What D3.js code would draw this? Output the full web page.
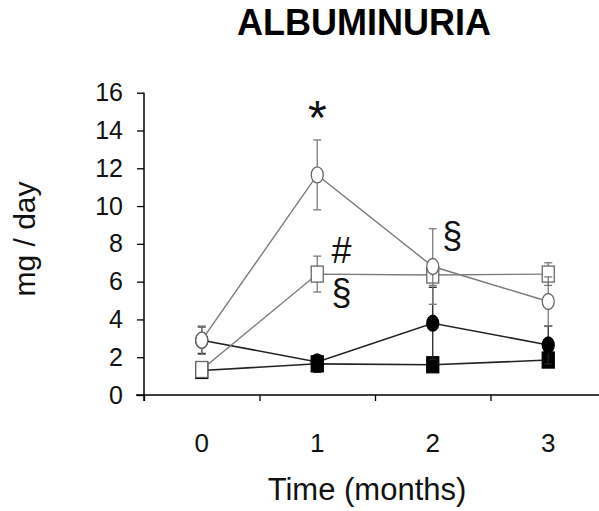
<!DOCTYPE html>
<html>
<head>
<meta charset="utf-8">
<title>Albuminuria</title>
<script src="https://d3js.org/d3.v7.min.js"></script>
<style>
  body { margin: 0; background: #fff; }
  svg { font-family: "Liberation Sans", Arial, sans-serif; }
</style>
</head>
<body>
<div id="chart"></div>
<script>
// values (mg / day)
var months = [0, 1, 2, 3];
var yTicks = [0, 2, 4, 6, 8, 10, 12, 14, 16];

var openCircle      = [2.9, 11.65, 6.8, 4.95];
var openCircleErr   = [0.75, 1.85, 2.0, 1.3];
var openSquare      = [1.35, 6.4, 6.35, 6.4];
var openSquareErr   = [0.4, 0.95, 0.55, 0.6];
var filledCircle    = [2.9, 1.75, 3.8, 2.65];
var filledCircleErr = [0.7, 0.3, 1.9, 1.0];
var filledSquare    = [1.3, 1.65, 1.6, 1.85];
var filledSquareErr = [0.2, 0.45, 0.2, 0.2];

// significance marks: [month, value, symbol]
var marks = [[1, 13.8, "*"], [1.21, 6.98, "#"], [1.21, 4.76, "§"], [2.17, 7.77, "§"]];

var W = 599, H = 511;
var svg = d3.select("#chart").append("svg").attr("width", W).attr("height", H);

var x = d3.scaleLinear().domain([-0.5, 3.5]).range([144, 606]);
var y = d3.scaleLinear().domain([0, 16]).range([395, 92.7]);

// title
svg.append("text").attr("x", 364).attr("y", 35).attr("text-anchor", "middle")
  .attr("font-size", 36).attr("font-weight", "bold").text("ALBUMINURIA");

// y axis
var gy = svg.append("g").attr("transform", "translate(" + x(-0.5) + ",0)")
  .call(d3.axisLeft(y).tickValues(yTicks).tickSize(7).tickPadding(14));
gy.select(".domain").attr("d", "M0," + y(16) + "V" + (y(0) + 6)).attr("stroke", "#000").attr("stroke-width", 1.5);
gy.selectAll(".tick line").attr("stroke", "#000").attr("stroke-width", 1.3);
gy.selectAll(".tick text").attr("font-size", 25).attr("font-family", "Liberation Sans, Arial, sans-serif").attr("fill", "#111");

// x axis: ticks at the band edges, labels at the month centres
var gx = svg.append("g").attr("transform", "translate(0," + y(0) + ")")
  .call(d3.axisBottom(x).tickValues([-0.5, 0.5, 1.5, 2.5]).tickSize(6).tickFormat(""));
gx.select(".domain").attr("d", "M" + (x(-0.5) - 8) + ",0H" + W).attr("stroke", "#000").attr("stroke-width", 1.5);
gx.selectAll(".tick line").attr("stroke", "#000").attr("stroke-width", 1.3);

svg.append("g").selectAll("text").data(months).join("text")
  .attr("x", function (d) { return x(d); }).attr("y", 452)
  .attr("text-anchor", "middle").attr("font-size", 26).attr("fill", "#111")
  .text(function (d) { return d; });

svg.append("text").attr("x", 367).attr("y", 500).attr("text-anchor", "middle")
  .attr("font-size", 31).attr("fill", "#111").text("Time (months)");

svg.append("text").attr("transform", "translate(35,239) rotate(-90)")
  .attr("text-anchor", "middle").attr("font-size", 30).attr("fill", "#111").text("mg / day");

function drawSeries(vals, errs, shape, filled) {
  var col = filled ? "#222" : "#7a7a7a";
  var pts = months.map(function (m, i) { return [m, vals[i], errs[i]]; });
  var g = svg.append("g");

  g.append("path").datum(pts)
    .attr("fill", "none").attr("stroke", col).attr("stroke-width", filled ? 1.6 : 1.4)
    .attr("d", d3.line().x(function (d) { return x(d[0]); }).y(function (d) { return y(d[1]); }));

  var eb = g.selectAll(".eb").data(pts).join("g").attr("stroke", col).attr("stroke-width", 1.3);
  eb.append("line")
    .attr("x1", function (d) { return x(d[0]); }).attr("x2", function (d) { return x(d[0]); })
    .attr("y1", function (d) { return y(d[1] + d[2]); }).attr("y2", function (d) { return y(d[1] - d[2]); });
  [1, -1].forEach(function (s) {
    eb.append("line")
      .attr("x1", function (d) { return x(d[0]) - 4; }).attr("x2", function (d) { return x(d[0]) + 4; })
      .attr("y1", function (d) { return y(d[1] + s * d[2]); }).attr("y2", function (d) { return y(d[1] + s * d[2]); });
  });

  var mk = g.selectAll(".mk").data(pts).join(shape === "circle" ? "ellipse" : "rect")
    .attr("fill", filled ? "#000" : "#fff").attr("stroke", filled ? "#000" : "#666").attr("stroke-width", 1.3);
  if (shape === "circle") {
    mk.attr("cx", function (d) { return x(d[0]); }).attr("cy", function (d) { return y(d[1]); })
      .attr("rx", 6).attr("ry", 8);
  } else {
    mk.attr("x", function (d) { return x(d[0]) - 6; }).attr("y", function (d) { return y(d[1]) - 8; })
      .attr("width", 12).attr("height", 16);
  }
}

drawSeries(filledSquare, filledSquareErr, "square", true);
drawSeries(filledCircle, filledCircleErr, "circle", true);
drawSeries(openSquare, openSquareErr, "square", false);
drawSeries(openCircle, openCircleErr, "circle", false);

svg.append("g").selectAll("text").data(marks).join("text")
  .attr("x", function (d) { return x(d[0]); }).attr("y", function (d) { return y(d[1]); })
  .attr("text-anchor", "middle")
  .attr("font-size", function (d) { return d[2] === "*" ? 48 : 36; })
  .attr("fill", "#111")
  .text(function (d) { return d[2]; });
</script>
</body>
</html>
